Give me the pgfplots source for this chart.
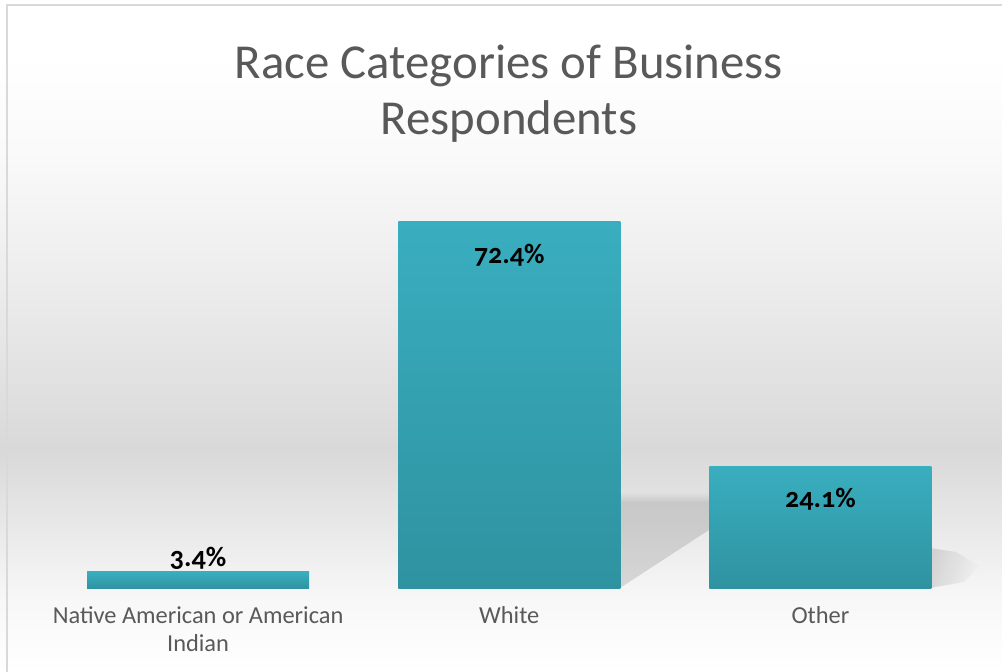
\documentclass[border=0pt]{standalone}
\usepackage{fontspec}
\setmainfont{Carlito}
\usepackage{pgfplots}
\pgfplotsset{compat=1.18}
\usetikzlibrary{fadings}

\definecolor{titlegray}{HTML}{595959}
\definecolor{bartop}{HTML}{39AEBF}
\definecolor{barbot}{HTML}{2F92A0}
\definecolor{framegray}{HTML}{D9D9D9}

% page background: white at the top, grey band low down, white again at the bottom
\pgfdeclareverticalshading{chartbg}{100bp}{%
  color(0bp)=(white);
  color(25bp)=(white);
  color(30.4bp)=(black!3);
  color(41.5bp)=(black!15);
  color(52.7bp)=(black!8);
  color(63.8bp)=(black!2);
  color(71bp)=(white);
  color(100bp)=(white)}

\pgfplotsset{
  racebar/.style={ybar, bar width=111pt, draw=none, top color=bartop, bottom color=barbot,
    point meta=y,
    nodes near coords={\pgfmathprintnumber[fixed,precision=1,fixed zerofill,assume math mode=true]{\pgfplotspointmeta}\%},
    every node near coord/.append style={anchor=center, yshift=#1, text=black,
      font=\bfseries\fontsize{14}{16}\selectfont\addfontfeatures{Numbers=OldStyle}}},
}

\begin{document}
\begin{tikzpicture}
\shade[shading=chartbg] (0,0) rectangle (501pt,336pt);
\draw[framegray, line width=1pt] (3.5pt,0) -- (3.5pt,333.5pt) -- (501pt,333.5pt);

% soft cast shadows behind the two tall bars
\fill[black, opacity=0.12] (310pt,84.5pt) -- (356pt,84.5pt) -- (356pt,72pt) -- (310pt,42pt) -- cycle;
\fill[black, opacity=0.12, path fading=north] (310pt,84.5pt) rectangle (356pt,90pt);
\fill[black, opacity=0.12, path fading=east] (465pt,62pt) -- (478pt,60pt) -- (490pt,53pt) -- (482pt,45pt) -- (465pt,42pt) -- cycle;

\node[titlegray, align=center, font=\fontsize{24.4}{28}\selectfont] at (254.5pt,289pt)
  {Race Categories of Business\\Respondents};

\begin{axis}[
  at={(21.25pt,41.5pt)}, anchor=south west,
  scale only axis, width=466.75pt, height=202.8pt,
  xmin=-0.5, xmax=2.5, ymin=0, ymax=80,
  axis line style={draw=none}, tick style={draw=none},
  ytick=\empty,
  xtick={0,1,2},
  xticklabels={{Native American or American\\Indian},White,Other},
  xticklabel style={anchor=north, inner sep=0pt, yshift=-8.5pt, align=center,
    text=titlegray, font=\fontsize{12.2}{14}\selectfont},
  clip=false,
]
% one plot per bar so that each bar gets its own gradient
\addplot[racebar=6.5pt] coordinates {(0,3.4)};
\addplot[racebar=-16.5pt] coordinates {(1,72.4)};
\addplot[racebar=-16pt] coordinates {(2,24.1)};
\end{axis}

\pgfresetboundingbox
\useasboundingbox (0,0) rectangle (501pt,336pt);
\end{tikzpicture}
\end{document}
